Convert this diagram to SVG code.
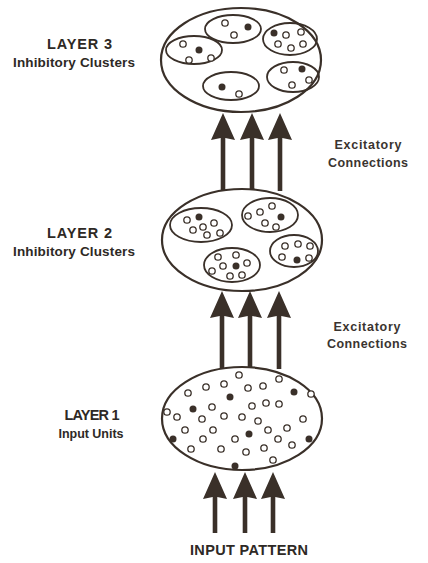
<svg xmlns="http://www.w3.org/2000/svg" width="428" height="563" viewBox="0 0 428 563">
<style>
.bg{fill:#fff}
.outer{fill:none;stroke:#3a3029;stroke-width:2.2}
.cl{fill:none;stroke:#3a3029;stroke-width:1.8}
.o{fill:#fff;stroke:#3a3029;stroke-width:1.3}
.f{fill:#3a3029}
.arr{fill:#3a3029}
.lab{font-family:"Liberation Sans",Arial,sans-serif;font-weight:bold;font-size:13.5px;fill:#2e2925;text-anchor:middle}
.up{font-size:14.5px}
.ex{font-family:"Liberation Sans",Arial,sans-serif;font-weight:bold;font-size:12.5px;fill:#3a3430;text-anchor:middle}
</style>
<rect class="bg" x="0" y="0" width="428" height="563"/>

<g id="connectors">
  <path class="arr" d="M223,113 L235,140 L225.3,138 L225.3,191 L220.7,191 L220.7,138 L211,140 Z"/>
  <path class="arr" d="M252,113 L264,140 L254.3,138 L254.3,190 L249.7,190 L249.7,138 L240,140 Z"/>
  <path class="arr" d="M280,113 L292,140 L282.3,138 L282.3,191 L277.7,191 L277.7,138 L268,140 Z"/>
  <path class="arr" d="M222,291 L234,318 L224.3,316 L224.3,369 L219.7,369 L219.7,316 L210,318 Z"/>
  <path class="arr" d="M250,291 L262,318 L252.3,316 L252.3,368 L247.7,368 L247.7,316 L238,318 Z"/>
  <path class="arr" d="M279,291 L291,318 L281.3,316 L281.3,369 L276.7,369 L276.7,316 L267,318 Z"/>
  <path class="arr" d="M215,472 L227,499 L217.3,497 L217.3,533 L212.7,533 L212.7,497 L203,499 Z"/>
  <path class="arr" d="M245,472 L257,499 L247.3,497 L247.3,533 L242.7,533 L242.7,497 L233,499 Z"/>
  <path class="arr" d="M273,472 L285,499 L275.3,497 L275.3,533 L270.7,533 L270.7,497 L261,499 Z"/>
</g>

<g id="layer3">
  <ellipse class="outer" cx="241" cy="60" rx="80" ry="52"/>
  <g id="l3c1"><ellipse class="cl" cx="233" cy="29" rx="28" ry="14"/>
    <circle class="o" cx="225" cy="23" r="3.2"/><circle class="f" cx="248" cy="27" r="3.5"/><circle class="o" cx="234" cy="35" r="3.2"/></g>
  <g id="l3c2"><ellipse class="cl" cx="290" cy="39" rx="27" ry="16"/>
    <circle class="f" cx="274" cy="33" r="3.5"/><circle class="o" cx="286" cy="35" r="3.2"/><circle class="o" cx="301" cy="32" r="3.2"/>
    <circle class="o" cx="278" cy="44" r="3.2"/><circle class="o" cx="291" cy="48" r="3.2"/><circle class="o" cx="303" cy="44" r="3.2"/></g>
  <g id="l3c3"><ellipse class="cl" cx="194" cy="50" rx="28" ry="14"/>
    <circle class="o" cx="183" cy="44" r="3.2"/><circle class="f" cx="199" cy="50" r="3.5"/><circle class="o" cx="189" cy="60" r="3.2"/><circle class="o" cx="211" cy="58" r="3.2"/></g>
  <g id="l3c4"><ellipse class="cl" cx="231" cy="86" rx="28" ry="14"/>
    <circle class="f" cx="222" cy="87" r="3.5"/><circle class="o" cx="239" cy="94" r="3.2"/></g>
  <g id="l3c5"><ellipse class="cl" cx="293" cy="77" rx="26" ry="15"/>
    <circle class="o" cx="284" cy="70" r="3.2"/><circle class="f" cx="302" cy="69" r="3.5"/><circle class="o" cx="292" cy="85" r="3.2"/><circle class="o" cx="309" cy="80" r="3.2"/></g>
  <text class="lab up" x="79.5" y="49" textLength="65" lengthAdjust="spacing">LAYER 3</text>
  <text class="lab" x="74" y="67" textLength="122" lengthAdjust="spacing">Inhibitory Clusters</text>
</g>

<g id="layer2">
  <ellipse class="outer" cx="242" cy="240" rx="80" ry="51"/>
  <g id="l2c1"><ellipse class="cl" cx="201" cy="225" rx="31" ry="17"/>
    <circle class="o" cx="187" cy="220" r="3.2"/><circle class="f" cx="199" cy="217" r="3.5"/><circle class="o" cx="214" cy="223" r="3.2"/>
    <circle class="o" cx="193" cy="230" r="3.2"/><circle class="o" cx="203" cy="227" r="3.2"/><circle class="o" cx="207" cy="235" r="3.2"/><circle class="o" cx="220" cy="233" r="3.2"/></g>
  <g id="l2c2"><ellipse class="cl" cx="270" cy="215" rx="28" ry="17"/>
    <circle class="o" cx="248" cy="216" r="3.2"/><circle class="o" cx="260" cy="212" r="3.2"/><circle class="o" cx="272" cy="206" r="3.2"/>
    <circle class="f" cx="281" cy="217" r="3.5"/><circle class="o" cx="265" cy="223" r="3.2"/><circle class="o" cx="276" cy="227" r="3.2"/></g>
  <g id="l2c3"><ellipse class="cl" cx="294" cy="251" rx="24" ry="16"/>
    <circle class="o" cx="285" cy="246" r="3.2"/><circle class="o" cx="298" cy="244" r="3.2"/><circle class="o" cx="310" cy="246" r="3.2"/>
    <circle class="o" cx="282" cy="257" r="3.2"/><circle class="f" cx="297" cy="260" r="3.5"/><circle class="o" cx="309" cy="258" r="3.2"/></g>
  <g id="l2c4"><ellipse class="cl" cx="232" cy="265" rx="28" ry="17"/>
    <circle class="o" cx="218" cy="257" r="3.2"/><circle class="o" cx="236" cy="255" r="3.2"/><circle class="o" cx="247" cy="263" r="3.2"/>
    <circle class="o" cx="223" cy="266" r="3.2"/><circle class="f" cx="236" cy="266" r="3.5"/><circle class="o" cx="212" cy="271" r="3.2"/>
    <circle class="o" cx="230" cy="276" r="3.2"/><circle class="o" cx="242" cy="275" r="3.2"/></g>
  <text class="lab up" x="79.5" y="238" textLength="65" lengthAdjust="spacing">LAYER 2</text>
  <text class="lab" x="74" y="256" textLength="122" lengthAdjust="spacing">Inhibitory Clusters</text>
</g>

<g id="layer1">
  <ellipse class="outer" cx="242" cy="418.5" rx="80" ry="51.5"/>
  <circle class="o" cx="239" cy="375" r="3.2"/><circle class="o" cx="206" cy="387" r="3.2"/><circle class="o" cx="224" cy="384" r="3.2"/>
  <circle class="o" cx="248" cy="388" r="3.2"/><circle class="o" cx="263" cy="386" r="3.2"/><circle class="o" cx="279" cy="379" r="3.2"/>
  <circle class="o" cx="188" cy="393" r="3.2"/><circle class="f" cx="230" cy="397" r="3.5"/><circle class="f" cx="294" cy="392" r="3.5"/>
  <circle class="o" cx="311" cy="394" r="3.2"/><circle class="o" cx="167" cy="412" r="3.2"/><circle class="o" cx="177" cy="417" r="3.2"/>
  <circle class="f" cx="193" cy="409" r="3.5"/><circle class="o" cx="212" cy="407" r="3.2"/><circle class="o" cx="252" cy="406" r="3.2"/>
  <circle class="o" cx="266" cy="403" r="3.2"/><circle class="o" cx="279" cy="404" r="3.2"/><circle class="o" cx="202" cy="419" r="3.2"/>
  <circle class="o" cx="224" cy="416" r="3.2"/><circle class="o" cx="242" cy="417" r="3.2"/><circle class="o" cx="258" cy="421" r="3.2"/>
  <circle class="o" cx="303" cy="419" r="3.2"/><circle class="o" cx="185" cy="430" r="3.2"/><circle class="o" cx="213" cy="430" r="3.2"/>
  <circle class="o" cx="268" cy="430" r="3.2"/><circle class="o" cx="287" cy="428" r="3.2"/><circle class="f" cx="173" cy="439" r="3.5"/>
  <circle class="o" cx="203" cy="439" r="3.2"/><circle class="o" cx="235" cy="439" r="3.2"/><circle class="f" cx="249" cy="434" r="3.5"/>
  <circle class="o" cx="278" cy="439" r="3.2"/><circle class="f" cx="309" cy="439" r="3.5"/><circle class="o" cx="191" cy="449" r="3.2"/>
  <circle class="o" cx="221" cy="449" r="3.2"/><circle class="o" cx="246" cy="452" r="3.2"/><circle class="o" cx="264" cy="448" r="3.2"/>
  <circle class="o" cx="292" cy="445" r="3.2"/><circle class="o" cx="273" cy="460" r="3.2"/><circle class="f" cx="235" cy="466" r="3.5"/>
  <text class="lab up" x="92" y="420" textLength="55" lengthAdjust="spacing">LAYER 1</text>
  <text class="lab" x="91" y="438" style="font-size:12.5px" textLength="65" lengthAdjust="spacing">Input Units</text>
</g>

<g id="labels">
  <text class="ex" x="368" y="149" textLength="67" lengthAdjust="spacing">Excitatory</text>
  <text class="ex" x="368" y="167" textLength="80" lengthAdjust="spacing">Connections</text>
  <text class="ex" x="367" y="331" textLength="67" lengthAdjust="spacing">Excitatory</text>
  <text class="ex" x="367" y="348" textLength="80" lengthAdjust="spacing">Connections</text>
  <text class="lab" x="249" y="555" style="font-size:14.5px" textLength="118" lengthAdjust="spacing">INPUT PATTERN</text>
</g>
</svg>
